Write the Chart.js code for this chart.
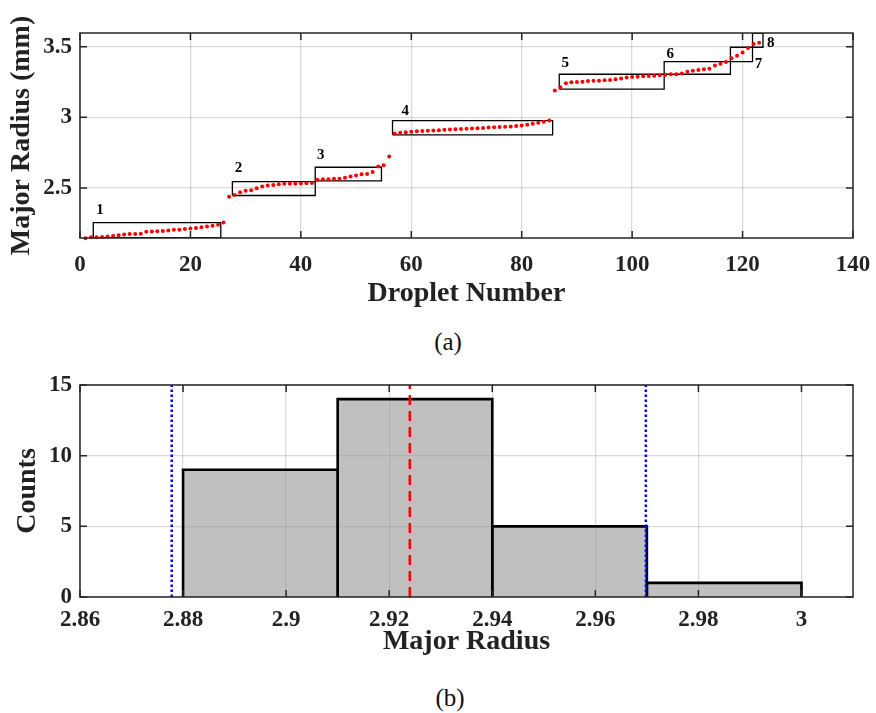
<!DOCTYPE html>
<html>
<head>
<meta charset="utf-8">
<script src="https://cdn.jsdelivr.net/npm/chart.js@4.4.1/dist/chart.umd.min.js"></script>
<style>
  body { margin: 0; background: #fff; }
  .wrap { position: absolute; left: 0; width: 876px; height: 320px; }
  .caption {
    position: absolute; width: 876px; left: 0; text-align: center;
    font-family: "Liberation Serif", "Times New Roman", serif; font-size: 25px; color: #111;
  }
</style>
</head>
<body>
<div class="wrap" style="top:0"><canvas id="dropletChart"></canvas></div>
<div class="caption" style="top:328px;left:10px">(a)</div>
<div class="wrap" style="top:350px"><canvas id="histChart"></canvas></div>
<div class="caption" style="top:684px;left:12px">(b)</div>
<script>
// (a) major radius of each droplet, in droplet order (1..123)
const radiusMm = [
  2.144, 2.151, 2.151, 2.152, 2.155, 2.160, 2.165, 2.170, 2.174, 2.174,
  2.175, 2.189, 2.191, 2.193, 2.195, 2.198, 2.203, 2.203, 2.208, 2.212,
  2.215, 2.222, 2.226, 2.231, 2.238, 2.254, 2.438, 2.450, 2.469, 2.479,
  2.484, 2.498, 2.509, 2.516, 2.521, 2.526, 2.530, 2.530, 2.530, 2.531,
  2.533, 2.535, 2.557, 2.561, 2.562, 2.564, 2.564, 2.571, 2.580, 2.587,
  2.597, 2.599, 2.613, 2.651, 2.661, 2.722, 2.886, 2.890, 2.894, 2.898,
  2.901, 2.903, 2.905, 2.907, 2.909, 2.911, 2.913, 2.915, 2.917, 2.919,
  2.921, 2.923, 2.925, 2.927, 2.929, 2.931, 2.933, 2.935, 2.938, 2.942,
  2.948, 2.954, 2.961, 2.968, 2.978, 3.189, 3.213, 3.241, 3.248, 3.250,
  3.252, 3.257, 3.259, 3.259, 3.262, 3.264, 3.269, 3.274, 3.281, 3.285,
  3.288, 3.290, 3.293, 3.295, 3.298, 3.302, 3.305, 3.305, 3.310, 3.323,
  3.330, 3.335, 3.340, 3.344, 3.366, 3.380, 3.392, 3.418, 3.436, 3.458,
  3.491, 3.519, 3.528
];

// group boxes drawn round the clusters
const groupNames = ["1", "2", "3", "4", "5", "6", "7", "8"];
const boxLeft   = [2.4, 27.6, 42.6, 56.6, 86.8, 105.8, 117.8, 121.8];
const boxRight  = [25.5, 42.6, 54.6, 85.6, 105.8, 117.8, 121.8, 123.7];
const boxBottom = [2.148, 2.446, 2.550, 2.876, 3.199, 3.305, 3.394, 3.496];
const boxTop    = [2.254, 2.545, 2.646, 2.977, 3.305, 3.394, 3.496, 3.594];
const nameX     = [3.6, 28.7, 43.6, 58.9, 87.9, 106.9, 122.9, 125.1];
const nameY     = [2.344, 2.639, 2.734, 3.045, 3.382, 3.448, 3.378, 3.524];

const dropletTicks = [0, 20, 40, 60, 80, 100, 120, 140];
const radiusTicks = [2.5, 3, 3.5];

// (b) histogram of group 4
const binEdges = [2.88, 2.91, 2.94, 2.97, 3.00];
const binCounts = [9, 14, 5, 1];
const meanRadius = 2.924;
const lowerBound = 2.8778;
const upperBound = 2.9698;
const histTicks = [2.86, 2.88, 2.9, 2.92, 2.94, 2.96, 2.98, 3];
const countTicks = [0, 5, 10, 15];

const FONT = "'Liberation Serif', 'Times New Roman', serif";
const INK = "#222";

// MATLAB-like box, inward ticks, axis titles and text labels
const matlabAxes = {
  id: "matlabAxes",
  afterDatasetsDraw(chart, args, opts) {
    const { ctx, chartArea: a, scales } = chart;
    const x = scales.x, y = scales.y;
    ctx.save();
    ctx.strokeStyle = "#262626";
    ctx.lineWidth = 1.5;
    ctx.beginPath();
    x.ticks.forEach(t => {
      const px = x.getPixelForValue(t.value);
      ctx.moveTo(px, a.bottom); ctx.lineTo(px, a.bottom - 7);
      ctx.moveTo(px, a.top); ctx.lineTo(px, a.top + 7);
    });
    y.ticks.forEach(t => {
      const py = y.getPixelForValue(t.value);
      ctx.moveTo(a.left, py); ctx.lineTo(a.left + 7, py);
      ctx.moveTo(a.right, py); ctx.lineTo(a.right - 7, py);
    });
    ctx.stroke();
    ctx.strokeRect(a.left, a.top, a.right - a.left, a.bottom - a.top);

    ctx.fillStyle = "#000";
    ctx.textAlign = "center";
    ctx.textBaseline = "middle";
    ctx.font = "bold 15px " + FONT;
    (opts.labels || []).forEach(l => {
      ctx.fillText(l.text, x.getPixelForValue(l.x), y.getPixelForValue(l.y));
    });

    ctx.fillStyle = INK;
    ctx.font = "bold 28px " + FONT;
    ctx.fillText(opts.xTitle, (a.left + a.right) / 2, a.bottom + opts.xTitleGap);
    ctx.translate(opts.yTitleX, (a.top + a.bottom) / 2);
    ctx.rotate(-Math.PI / 2);
    ctx.fillText(opts.yTitle, 0, 0);
    ctx.restore();
  }
};

function noEdgePadding(s) {
  s.paddingLeft = 0; s.paddingRight = 0; s.paddingTop = 0; s.paddingBottom = 0;
}

function axisStyle(ticks, pad, size, fmt) {
  return {
    type: "linear",
    grid: { color: "rgba(0,0,0,0.14)", lineWidth: 1.3, drawTicks: false },
    border: { display: false },
    ticks: {
      padding: pad,
      color: INK,
      font: { family: FONT, size: size, weight: "bold" },
      callback: fmt || (v => String(v))
    },
    afterBuildTicks: s => { s.ticks = ticks.map(v => ({ value: v })); }
  };
}

// ---- chart (a)
const boxSets = groupNames.map((n, i) => ({
  data: [
    { x: boxLeft[i], y: boxBottom[i] },
    { x: boxLeft[i], y: boxTop[i] },
    { x: boxRight[i], y: boxTop[i] },
    { x: boxRight[i], y: boxBottom[i] },
    { x: boxLeft[i], y: boxBottom[i] }
  ],
  borderColor: "#000",
  borderWidth: 1.3,
  pointRadius: 0,
  fill: false,
  tension: 0
}));

const xA = axisStyle(dropletTicks, 13, 23);
xA.min = 0; xA.max = 140;
xA.afterFit = s => { s.height = 82; noEdgePadding(s); };
const yA = axisStyle(radiusTicks, 8, 23);
yA.min = 2.145; yA.max = 3.597;
yA.afterFit = s => { s.width = 80; noEdgePadding(s); };

new Chart(document.getElementById("dropletChart"), {
  type: "line",
  data: {
    datasets: [
      {
        data: radiusMm.map((r, i) => ({ x: i + 1, y: r })),
        showLine: false,
        pointRadius: 2,
        pointBorderWidth: 0,
        pointBackgroundColor: "#ff0000",
        clip: false
      },
      ...boxSets
    ]
  },
  options: {
    responsive: true,
    maintainAspectRatio: false,
    animation: false,
    layout: { padding: { left: 0, right: 23, top: 33, bottom: 0 } },
    scales: { x: xA, y: yA },
    plugins: {
      legend: { display: false },
      tooltip: { enabled: false },
      matlabAxes: {
        labels: groupNames.map((n, i) => ({ text: n, x: nameX[i], y: nameY[i] })),
        xTitle: "Droplet Number",
        xTitleGap: 56,
        yTitle: "Major Radius (mm)",
        yTitleX: 22
      }
    }
  },
  plugins: [matlabAxes]
});

// ---- chart (b)
const barSets = binCounts.map((c, i) => ({
  data: [
    { x: binEdges[i], y: 0 },
    { x: binEdges[i], y: c },
    { x: binEdges[i + 1], y: c },
    { x: binEdges[i + 1], y: 0 }
  ],
  borderColor: "#000",
  borderWidth: 2.6,
  backgroundColor: "rgba(150,150,150,0.6)",
  fill: "origin",
  pointRadius: 0,
  tension: 0
}));

function vLine(xv, color, dash, width) {
  return {
    data: [{ x: xv, y: 0 }, { x: xv, y: 15 }],
    borderColor: color,
    borderDash: dash,
    borderWidth: width,
    pointRadius: 0,
    fill: false
  };
}

const xB = axisStyle(histTicks, 9, 23, v => String(Number(v.toFixed(2))));
xB.min = 2.86; xB.max = 3.01;
xB.afterFit = s => { s.height = 73; noEdgePadding(s); };
const yB = axisStyle(countTicks, 8, 23);
yB.min = 0; yB.max = 15;
yB.afterFit = s => { s.width = 80; noEdgePadding(s); };

new Chart(document.getElementById("histChart"), {
  type: "line",
  data: {
    datasets: [
      vLine(meanRadius, "#ff0000", [10, 6], 2.5),
      vLine(lowerBound, "#0000ff", [2.5, 2.5], 2.5),
      vLine(upperBound, "#0000ff", [2.5, 2.5], 2.5),
      ...barSets
    ]
  },
  options: {
    responsive: true,
    maintainAspectRatio: false,
    animation: false,
    layout: { padding: { left: 0, right: 23, top: 35, bottom: 0 } },
    scales: { x: xB, y: yB },
    plugins: {
      legend: { display: false },
      tooltip: { enabled: false },
      matlabAxes: {
        xTitle: "Major Radius",
        xTitleGap: 45,
        yTitle: "Counts",
        yTitleX: 28
      }
    }
  },
  plugins: [matlabAxes]
});
</script>
</body>
</html>
